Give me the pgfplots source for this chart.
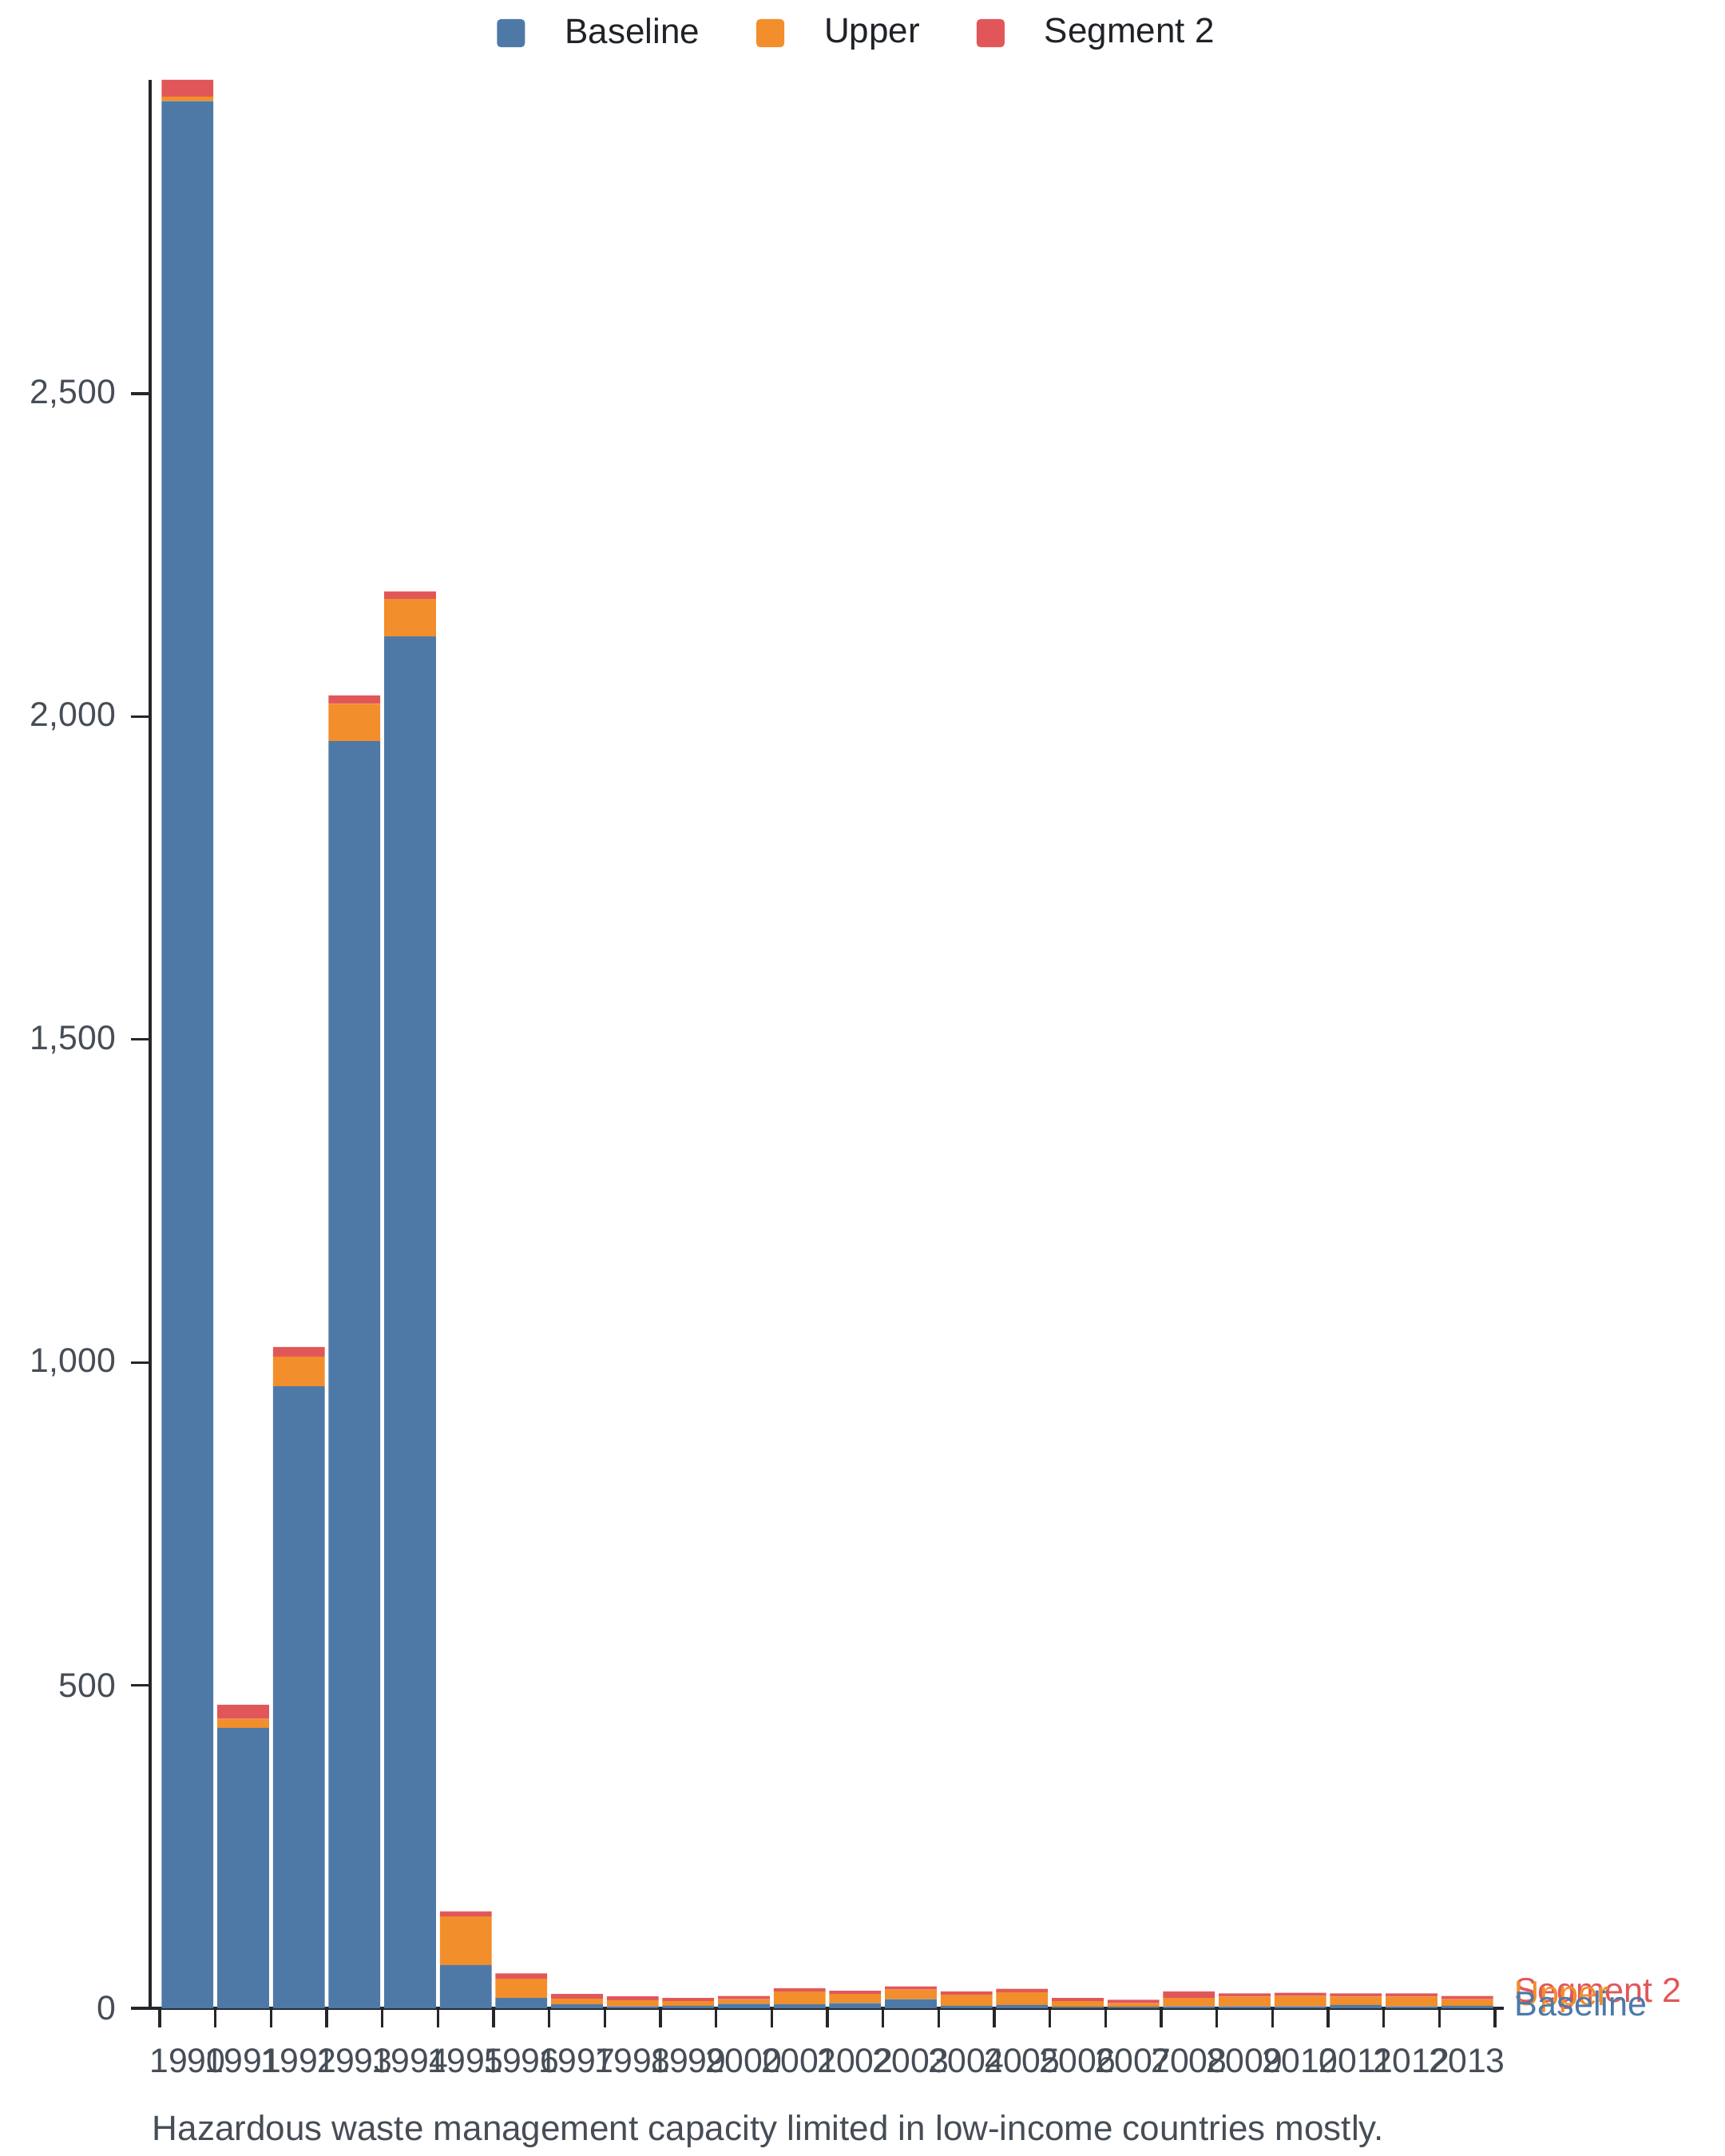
\documentclass[border=0pt]{standalone}
\usepackage{fontspec}
\setmainfont{Liberation Sans}
\usepackage{pgfplots}
\pgfplotsset{compat=1.18}
\usepackage{pgfplotstable}
\definecolor{cblue}{HTML}{4E79A7}
\definecolor{corange}{HTML}{F28E2B}
\definecolor{cred}{HTML}{E15759}
\definecolor{cgrey}{HTML}{464D56}
\definecolor{caxis}{HTML}{23272C}
\definecolor{clegend}{HTML}{1F2328}

\pgfplotstableread{
x base upper seg
0 2953 7 26
1 434 14 22
2 963 46 15
3 1962 58 13
4 2124 58 12
5 67 75 8
6 16 30 8
7 6 9 7
8 3 9.5 6
9 4 7 5
10 7 7 5
11 6 20 5
12 8 14 5
13 14 15 5
14 4 17 5
15 5 20 5
16 2 9 5
17 2 6 5
18 3 13 10
19 3 15 5
20 3 16 5
21 5 13 5
22 3 15 5
23 4 10 5
}\datatable

\begin{document}
\fontsize{10.7pt}{12.8pt}\selectfont
\begin{tikzpicture}
\useasboundingbox (0,0) rectangle (540pt,675pt);
\begin{axis}[
  at={(47pt,46.25pt)}, anchor=south west,
  scale only axis, width=423.75pt, height=603.75pt,
  ybar stacked, bar width=0.93,
  xmin=-0.672, xmax=23.658, ymin=0, ymax=2986,
  axis lines=left, axis line style={-, caxis, line width=1pt},
  clip=false,
  tick align=outside,
  ytick={0,500,1000,1500,2000,2500},
  major tick length=6pt,
  ytick style={caxis, line width=0.8pt},
  xtick={0,...,23},
  xticklabels={1990,1991,1992,1993,1994,1995,1996,1997,1998,1999,2000,2001,2002,2003,2004,2005,2006,2007,2008,2009,2010,2011,2012,2013},
  x tick style={draw=none},
  minor xtick={-0.5,0.5,...,23.5},
  minor tick length=6pt,
  minor x tick style={draw=caxis, line width=0.8pt},
  /pgf/number format/assume math mode=true,
  /pgf/number format/1000 sep={,},
  scaled y ticks=false,
  yticklabel style={text=cgrey, font=\fontsize{10.7pt}{12.8pt}\selectfont, xshift=-1pt},
  xticklabel style={text=cgrey, font=\fontsize{10.7pt}{12.8pt}\selectfont, yshift=-3pt},
  legend columns=3,
  legend style={at={(0.5236,1.0242)}, anchor=center, draw=none, fill=none,
    font=\fontsize{11pt}{13.2pt}\selectfont, text=clegend,
    /tikz/every odd column/.append style={column sep=10.5pt},
    /tikz/every even column/.append style={column sep=15.75pt}},
  sqlegend/.style={legend image code/.code={\fill[##1, draw=none, rounded corners=1.2pt] (0pt,-4.4pt) rectangle (8.75pt,4.4pt);}},
]
\addplot[fill=cblue, draw=none, sqlegend] table[x=x, y=base] {\datatable};
\addplot[fill=corange, draw=none, sqlegend] table[x=x, y=upper] {\datatable};
\addplot[fill=cred, draw=none, sqlegend] table[x=x, y=seg] {\datatable};
\legend{Baseline, Upper, Segment 2}
\node[anchor=west, inner sep=0pt, xshift=3.25pt, yshift=0.6pt, text=cblue, font=\fontsize{10.8pt}{13pt}\selectfont] at (axis cs:23.658,4) {Baseline};
\node[anchor=west, inner sep=0pt, xshift=3.25pt, yshift=0.6pt, text=corange, font=\fontsize{10.8pt}{13pt}\selectfont] at (axis cs:23.658,14) {Upper};
\node[anchor=west, inner sep=0pt, xshift=3.25pt, yshift=0.6pt, text=cred, font=\fontsize{10.8pt}{13pt}\selectfont] at (axis cs:23.658,19) {Segment 2};
\end{axis}
\node[anchor=base west, inner sep=0pt, text=cgrey, font=\fontsize{11pt}{13.2pt}\selectfont] at (47.5pt,5pt) {Hazardous waste management capacity limited in low-income countries mostly.};
\end{tikzpicture}
\end{document}
